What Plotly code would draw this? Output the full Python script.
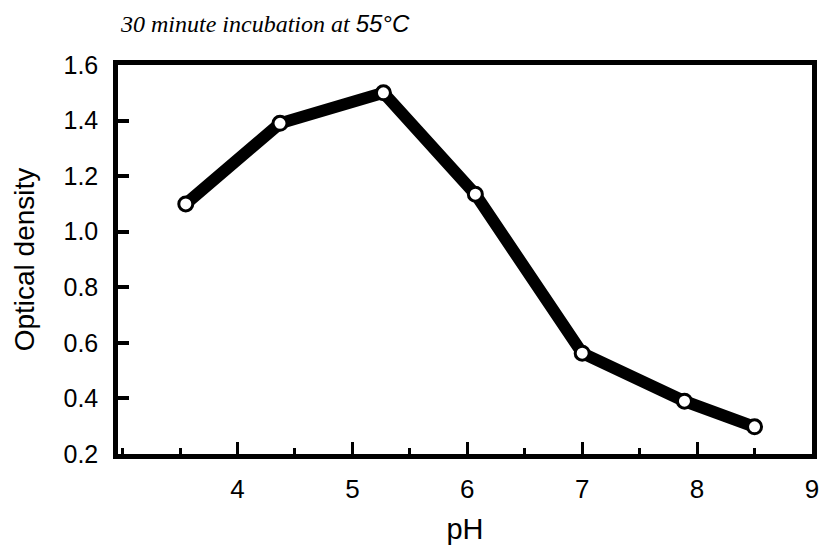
import plotly.graph_objects as go

ph = [3.55, 4.37, 5.27, 6.07, 7.0, 7.89, 8.5]
od = [1.10, 1.39, 1.50, 1.135, 0.563, 0.39, 0.298]
x_ticks = [4, 5, 6, 7, 8, 9]
y_ticks = [0.2, 0.4, 0.6, 0.8, 1.0, 1.2, 1.4, 1.6]

fig = go.Figure()
fig.add_trace(go.Scatter(
    x=ph, y=od, mode="lines+markers",
    line=dict(color="black", width=12),
    marker=dict(size=14, color="white", line=dict(color="black", width=3)),
    showlegend=False,
))

font_sans = "Liberation Sans, Arial, sans-serif"

fig.update_layout(
    width=823, height=548,
    margin=dict(l=118, r=11, t=65, b=94),
    paper_bgcolor="white", plot_bgcolor="white",
    font=dict(family=font_sans, color="black", size=24),
    xaxis=dict(
        range=[2.96, 9.0], tickvals=x_ticks, ticktext=[str(v) for v in x_ticks],
        showgrid=False, zeroline=False, automargin=False,
        showline=True, linecolor="black", linewidth=4.5, mirror=True,
        ticks="inside", ticklen=12, tickwidth=2.5, tickcolor="black",
        minor=dict(dtick=0.5, tick0=0, ticks="inside", ticklen=6, tickwidth=2.5, tickcolor="black"),
        tickfont=dict(size=26), ticklabelstandoff=8,
        title=dict(text="pH", font=dict(size=29), standoff=17),
    ),
    yaxis=dict(
        range=[0.2, 1.6], tickvals=y_ticks, ticktext=[f"{v:.1f}" for v in y_ticks],
        showgrid=False, zeroline=False, automargin=False,
        showline=True, linecolor="black", linewidth=4.5, mirror=True,
        ticks="inside", ticklen=11, tickwidth=3.5, tickcolor="black",
        tickfont=dict(size=25), ticklabelstandoff=10,
        title=dict(text="Optical density", font=dict(size=28), standoff=22),
    ),
    annotations=[dict(
        xref="paper", yref="paper", x=0.0, y=1.0, xanchor="left", yanchor="bottom",
        yshift=26, xshift=0, showarrow=False,
        text='<i>30 minute incubation at </i><span style="font-family:Liberation Sans, Arial, sans-serif"><i>55°C</i></span>',
        font=dict(family="Liberation Serif, Times New Roman, serif", size=24, color="black"),
    )],
)

fig.write_html("out.html")
